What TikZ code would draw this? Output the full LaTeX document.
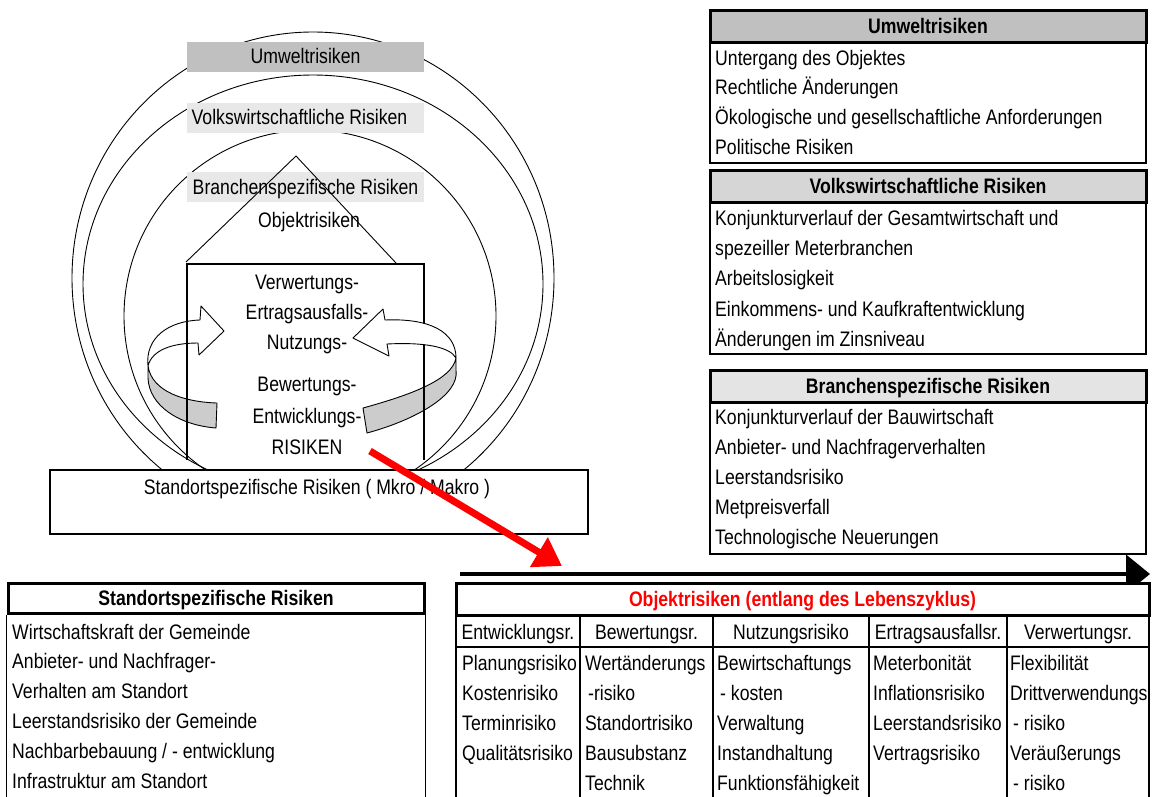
\documentclass[tikz,border=0pt]{standalone}
\usepackage{fontspec}
\setmainfont{Liberation Sans}[FakeStretch=0.84]
\usetikzlibrary{arrows.meta}
\definecolor{hdrgray}{RGB}{192,192,192}
\definecolor{dotgray}{RGB}{214,214,214}
\definecolor{dotlight}{RGB}{228,228,228}
\definecolor{lbllight}{RGB}{232,232,232}
\definecolor{bandgray}{RGB}{204,204,204}
\definecolor{redarrow}{RGB}{255,0,0}
\begin{document}
\begin{tikzpicture}[x=1pt,y=-1pt,
  txt/.style={inner sep=0pt, text height=15pt, text depth=1pt, font=\fontsize{21}{24}\selectfont},
  item/.style={inner sep=0pt, anchor=base west, font=\fontsize{21}{24}\selectfont},
  hdr/.style={draw, line width=3pt, inner sep=0pt, minimum height=32pt, text height=15pt, text depth=1pt, font=\fontsize{21}{24}\selectfont\bfseries},
  bodybox/.style={draw, line width=1.8pt, inner sep=0pt},
  thinline/.style={line width=0.9pt},
  bodyline/.style={line width=1.8pt},
  lbl/.style={txt, minimum width=237pt, minimum height=30pt},
  band/.style={draw, line width=0.9pt, line join=round},
]
\useasboundingbox (0,0) rectangle (1155,796);
\fill[white] (0,0) rectangle (1155,796);

% ---------- nested risk spheres ----------
\begin{scope}
  \clip (0,0) rectangle (1155,470);
  \draw[thinline] (313,278) ellipse [x radius=241, y radius=246];
  \draw[thinline] (313,284) ellipse [x radius=230, y radius=209];
  \draw[thinline] (310,316) ellipse [x radius=186, y radius=186];
\end{scope}

\node[lbl, fill=hdrgray] (lumw) at (305.5,56.5) {Umweltrisiken};
\node[lbl, fill=lbllight] (lvolk) at (305.5,117.5) {\hspace*{-12pt}Volkswirtschaftliche Risiken};
\node[lbl, fill=lbllight] (lbran) at (305.5,187) {Branchenspezifische Risiken};

% roof
\draw[thinline] (186,262) -- (296,156) -- (396,263);
\node[txt] (lobj) at (309,220) {Objektrisiken};

% left curved arrow
\draw[band, fill=white] (148,366) .. controls (145,338) and (168,321) .. (200,320)
   -- (201,306) -- (224,331) -- (199,355) -- (198,343)
   .. controls (172,343) and (152,350) .. (148,366) -- cycle;
\draw[band, fill=bandgray] (148,366) .. controls (152,392) and (185,402) .. (217,403)
   -- (216,428) .. controls (178,425) and (149,405) .. (148,378) -- cycle;
% right curved arrow (lower band)
\draw[band, fill=bandgray] (456,358) .. controls (452,380) and (410,395) .. (363,408)
   -- (367,433) .. controls (415,420) and (460,395) .. (456,370) -- cycle;

% house walls
\draw[line width=2.3pt] (187,460) -- (187,264) -- (424,264) -- (424,460);

% right curved arrow (upper band)
\draw[band, fill=white] (385,320) .. controls (430,318) and (456,332) .. (456,358)
   .. controls (450,347) and (425,342) .. (387,344)
   -- (389,356) -- (353,338) -- (383,309) -- cycle;

\node[txt] (hverw) at (307,282) {Verwertungs-};
\node[txt] (hertr) at (307,312) {Ertragsausfalls-};
\node[txt] (hnutz) at (307,342) {Nutzungs-};
\node[txt] (hbew) at (307,384) {Bewertungs-};
\node[txt] (hentw) at (307,416) {Entwicklungs-};
\node[txt] (hris) at (307,447) {RISIKEN};

% location box
\node[draw, line width=1.5pt, fill=white, inner sep=0pt, minimum width=538pt, minimum height=64pt] (stbox) at (319,502) {};
\node[txt] (sttext) at (317,487) {Standortspezifische Risiken ( Mkro / Makro )};

% ---------- right boxes ----------
\node[bodybox, minimum width=436pt, minimum height=120pt, anchor=north] (umb) at (928,42) {};
\node[hdr, fill=hdrgray, minimum width=436pt] (umh) at (928,26) {Umweltrisiken};
\foreach \t [count=\i from 0] in {Untergang des Objektes, Rechtliche Änderungen, Ökologische und gesellschaftliche Anforderungen, Politische Risiken}
  \node[item] (um\i) at (715,65+29.7*\i) {\t};

\node[bodybox, minimum width=436pt, minimum height=151pt, anchor=north] (vwb) at (928,202) {};
\node[hdr, fill=dotgray, minimum width=436pt] (vwh) at (928,186) {Volkswirtschaftliche Risiken};
\foreach \t [count=\i from 0] in {Konjunkturverlauf der Gesamtwirtschaft und, spezeiller Meterbranchen, Arbeitslosigkeit, Einkommens- und Kaufkraftentwicklung, Änderungen im Zinsniveau}
  \node[item] (vw\i) at (715,225+30.4*\i) {\t};

\node[bodybox, minimum width=436pt, minimum height=151pt, anchor=north] (brb) at (928,402) {};
\node[hdr, fill=dotlight, minimum width=436pt] (brh) at (928,386) {Branchenspezifische Risiken};
\foreach \t [count=\i from 0] in {Konjunkturverlauf der Bauwirtschaft, Anbieter- und Nachfragerverhalten, Leerstandsrisiko, Metpreisverfall, Technologische Neuerungen}
  \node[item] (br\i) at (715,424+30*\i) {\t};

% ---------- timeline ----------
\coordinate (tla) at (460,574);
\coordinate (tlb) at (1150,574);
\draw[line width=4.5pt, -{Triangle[length=24pt,width=38pt]}] (tla) -- (tlb);

% ---------- bottom left table ----------
\node[hdr, fill=white, minimum width=416pt, minimum height=30pt] (sth) at (216,598) {Standortspezifische Risiken};
\draw[bodyline] (sth.south west) -- ++(0,190);
\draw[bodyline] (sth.south east) -- ++(0,190);
\foreach \t [count=\i from 0] in {Wirtschaftskraft der Gemeinde, Anbieter- und Nachfrager-, Verhalten am Standort, Leerstandsrisiko der Gemeinde, Nachbarbebauung / - entwicklung, Infrastruktur am Standort}
  \node[item] (st\i) at (12,639+29.8*\i) {\t};

% ---------- bottom right table ----------
\node[hdr, fill=white, minimum width=693pt, text=redarrow] (obh) at (802.5,599) {Objektrisiken (entlang des Lebenszyklus)};
\foreach \x in {456,580,713,869,1007,1149}
  \draw[bodyline] (\x,615) -- (\x,800);
\draw[line width=1.3pt] (456,647) -- (1149,647);
\node[txt] (c1) at (518,632) {Entwicklungsr.};
\node[txt] (c2) at (646.5,632) {Bewertungsr.};
\node[txt] (c3) at (791,632) {Nutzungsrisiko};
\node[txt] (c4) at (938,632) {Ertragsausfallsr.};
\node[txt] (c5) at (1078,632) {Verwertungsr.};
\foreach \t [count=\i from 0] in {Planungsrisiko, Kostenrisiko, Terminrisiko, Qualitätsrisiko}
  \node[item] (ca\i) at (462,670+30*\i) {\t};
\foreach \t [count=\i from 0] in {Wertänderungs, {\hspace*{3pt}-risiko}, Standortrisiko, Bausubstanz, Technik}
  \node[item] (cb\i) at (585,670+30*\i) {\t};
\foreach \t [count=\i from 0] in {Bewirtschaftungs, {\hspace*{3pt}- kosten}, Verwaltung, Instandhaltung, Funktionsfähigkeit}
  \node[item] (cc\i) at (717,670+30*\i) {\t};
\foreach \t [count=\i from 0] in {Meterbonität, Inflationsrisiko, Leerstandsrisiko, Vertragsrisiko}
  \node[item] (cd\i) at (873,670+30*\i) {\t};
\foreach \t [count=\i from 0] in {Flexibilität, Drittverwendungs, {\hspace*{3pt}- risiko}, Veräußerungs, {\hspace*{3pt}- risiko}}
  \node[item] (ce\i) at (1010,670+30*\i) {\t};

% red arrow
\coordinate (ra) at (370,451);
\coordinate (rb) at (562,566);
\draw[redarrow, line width=7pt, -{Triangle[length=27pt,width=33pt]}] (ra) -- (rb);
\end{tikzpicture}
\end{document}
